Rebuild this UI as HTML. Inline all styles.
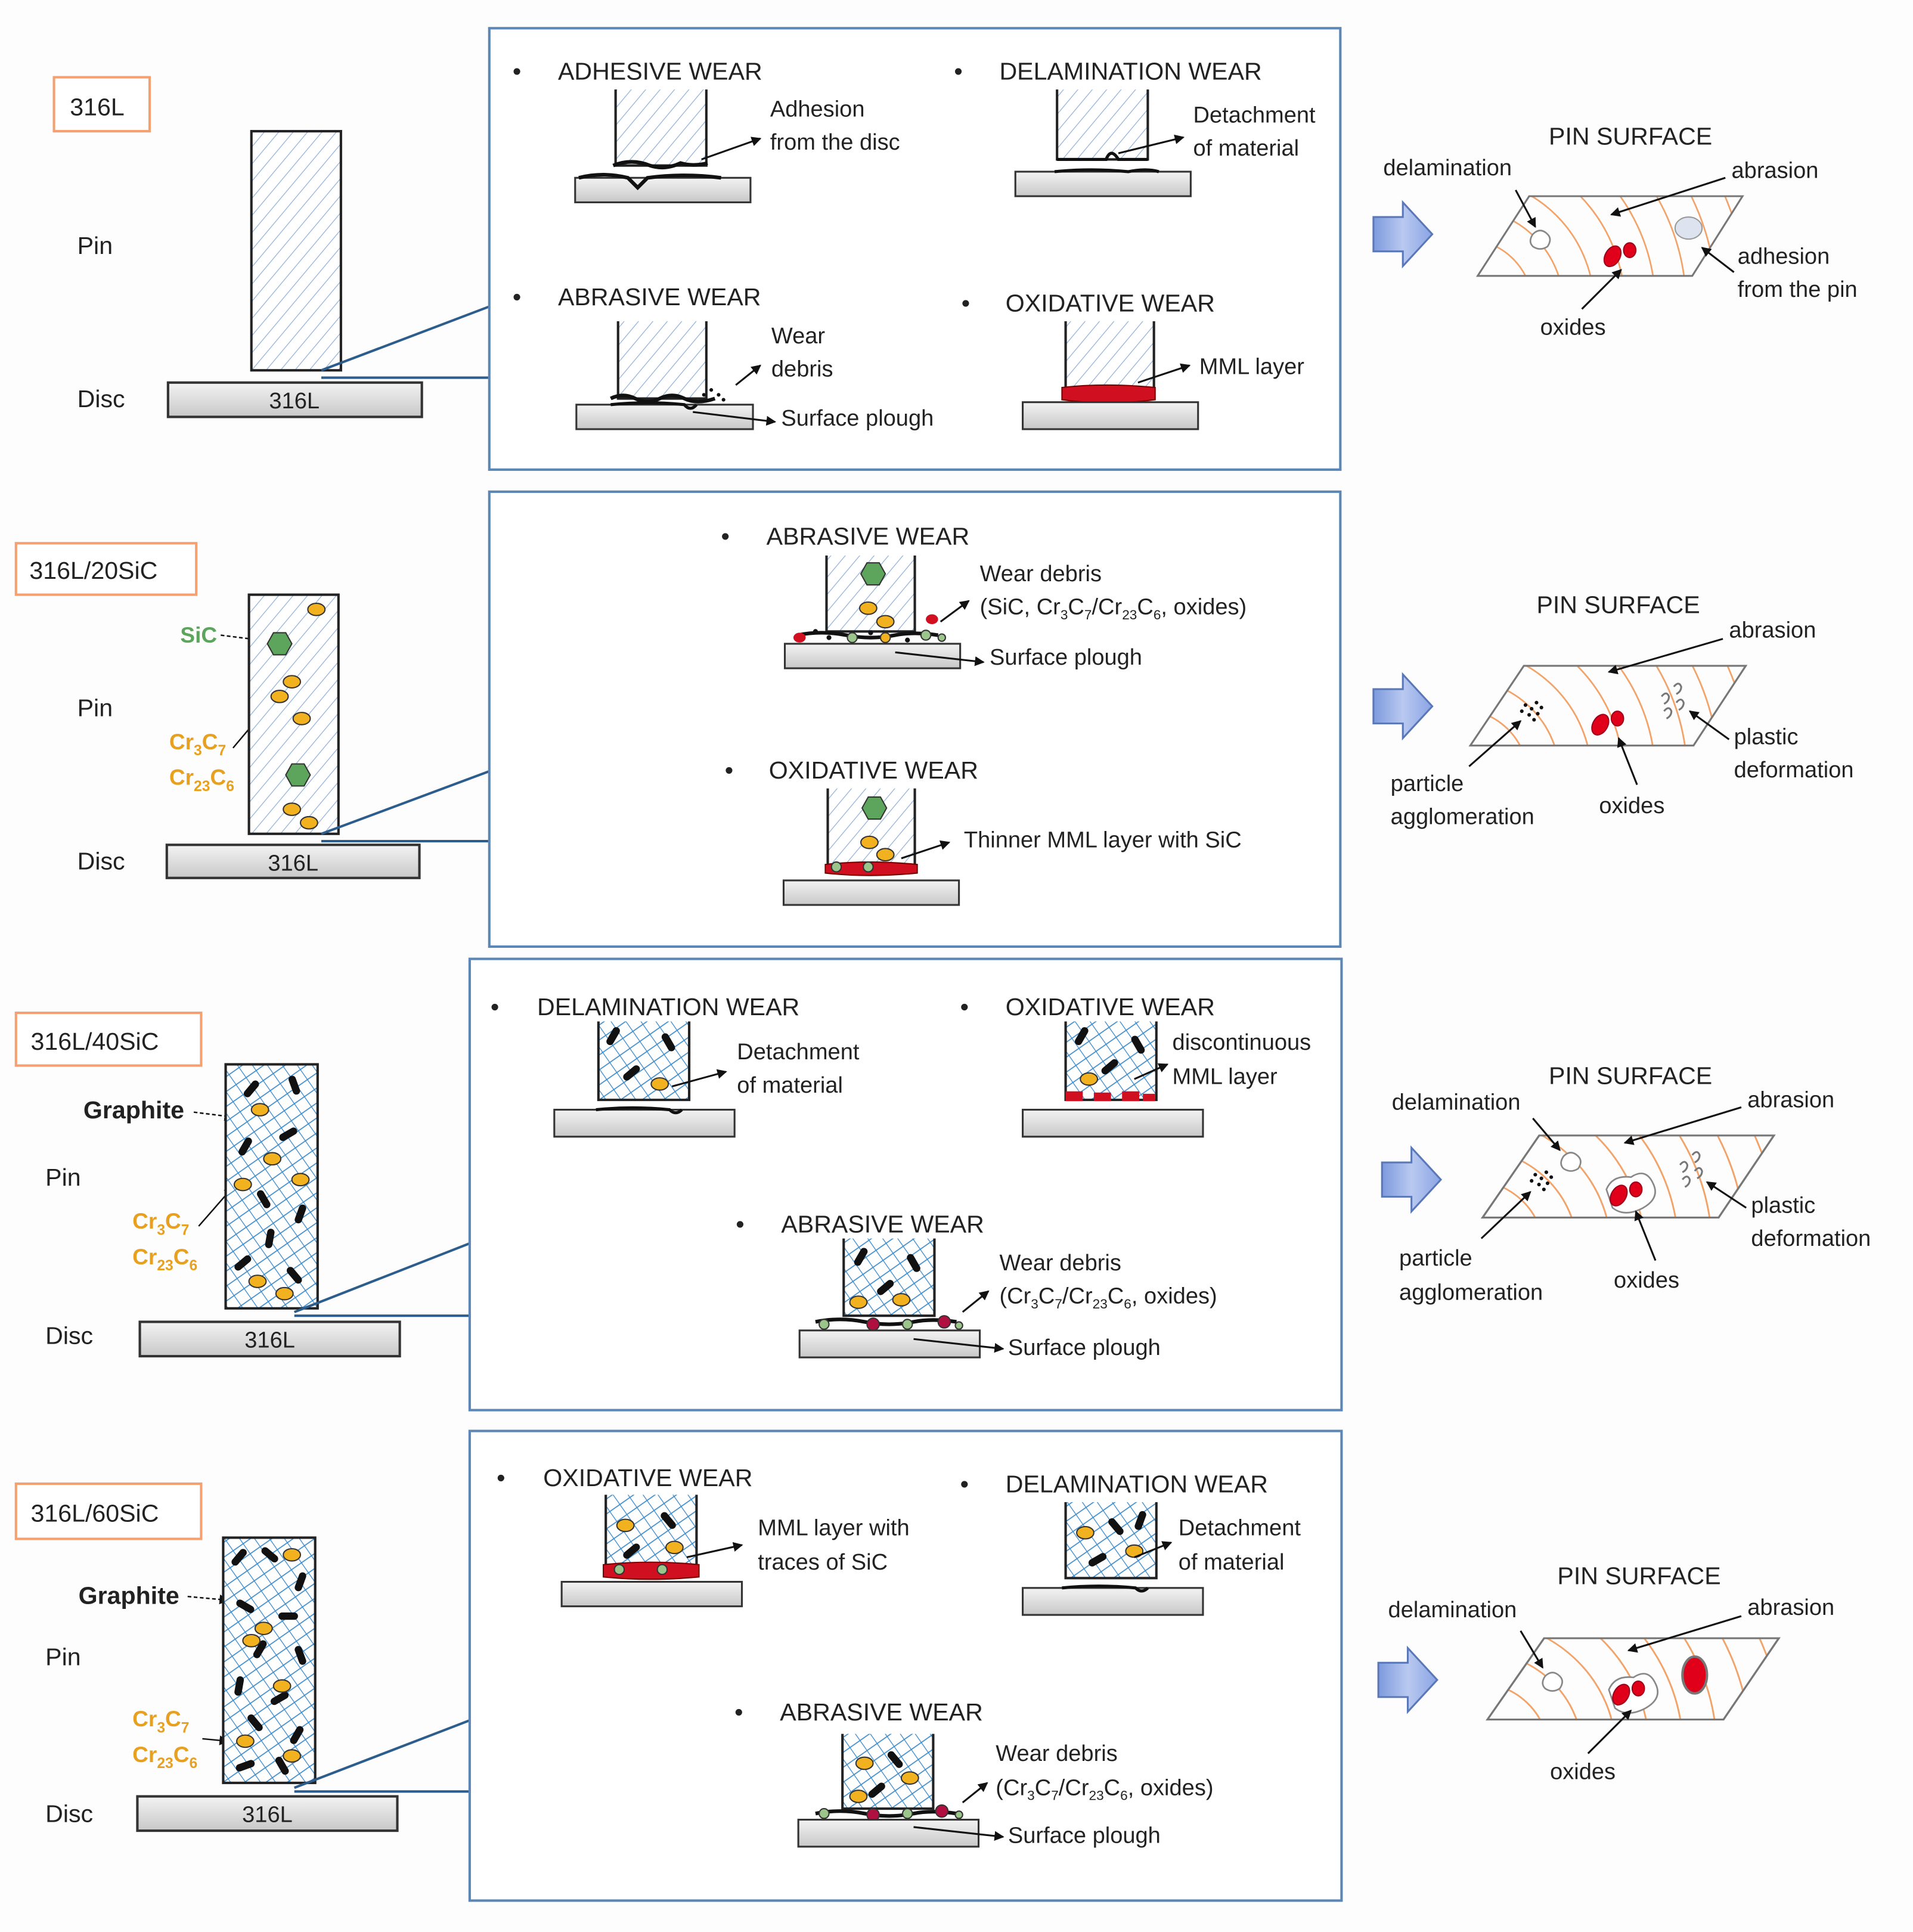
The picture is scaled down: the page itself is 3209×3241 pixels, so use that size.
<!DOCTYPE html>
<html><head><meta charset="utf-8"><style>
html,body{margin:0;padding:0;background:#fff;width:3209px;height:3241px;overflow:hidden;}
svg{display:block;}
text{font-family:"Liberation Sans",sans-serif;fill:#222;}
.h{font-size:20px;}
.l{font-size:18.5px;}
.b{font-size:20px;font-weight:bold;}
.o{fill:#e8a020;font-size:18px;font-weight:bold;}
</style></head><body>
<svg width="3209" height="3241" viewBox="0 0 1560 1575.6" xmlns="http://www.w3.org/2000/svg">
<defs>
<pattern id="hA" width="9" height="9" patternUnits="userSpaceOnUse" patternTransform="rotate(40)">
<rect width="9" height="9" fill="#fff"/><line x1="0" y1="0" x2="0" y2="9" stroke="#8fb0d8" stroke-width="1.2"/></pattern>
<pattern id="hB" width="10" height="10" patternUnits="userSpaceOnUse" patternTransform="rotate(-35)">
<rect width="10" height="10" fill="#fff"/><line x1="0" y1="0" x2="0" y2="10" stroke="#3d8ccc" stroke-width="1.3"/><line x1="0" y1="5" x2="10" y2="5" stroke="#3d8ccc" stroke-width="0.8"/></pattern>
<linearGradient id="dg" x1="0" y1="0" x2="0" y2="1"><stop offset="0" stop-color="#f3f3f3"/><stop offset="1" stop-color="#c8c8c8"/></linearGradient>
<linearGradient id="ag" x1="0" y1="0" x2="1" y2="0"><stop offset="0" stop-color="#7d9ade"/><stop offset="0.5" stop-color="#b9c9f0"/><stop offset="1" stop-color="#8aa4e4"/></linearGradient>
<marker id="ar" markerWidth="8" markerHeight="8" refX="7" refY="4" orient="auto" markerUnits="userSpaceOnUse"><path d="M0,0 L8,4 L0,8 z" fill="#111"/></marker>
<g id="barrow"><polygon points="0,12 24,12 24,0 48,26 24,52 24,40 0,40" fill="url(#ag)" stroke="#5a78b8" stroke-width="1.5"/></g>
<clipPath id="pc"><polygon points="42,0 216,0 175,65 0,65"/></clipPath>
<g id="surf">
<g clip-path="url(#pc)" fill="none" stroke="#f2a36a" stroke-width="1.3">
<circle cx="-10" cy="90" r="55"/><circle cx="-10" cy="90" r="80"/><circle cx="-10" cy="90" r="105"/><circle cx="-10" cy="90" r="130"/><circle cx="-10" cy="90" r="155"/><circle cx="-10" cy="90" r="180"/><circle cx="-10" cy="90" r="205"/><circle cx="-10" cy="90" r="230"/></g>
<polygon points="42,0 216,0 175,65 0,65" fill="none" stroke="#777" stroke-width="1.5"/></g>
<g id="sq"><path d="M0,3 q6,-6 12,0 q4,4 0,10 q-6,4 -12,0 q-4,-4 0,-10z" fill="#fff" stroke="#888" stroke-width="1.3"/></g>
<g id="ox"><ellipse cx="0" cy="0" rx="6" ry="9" transform="rotate(30)" fill="#e0001a" stroke="#a0001a"/><ellipse cx="14" cy="-5" rx="5" ry="6" fill="#e0001a" stroke="#a0001a"/></g>
<g id="pl" fill="none" stroke="#777" stroke-width="1.5"><path d="M0,0 q4,-5 6,0 q0,4 -4,6"/><path d="M10,-8 q4,-5 6,0 q0,4 -4,6"/><path d="M2,12 q4,-5 6,0 q0,4 -4,6"/><path d="M12,5 q4,-5 6,0 q0,4 -4,6"/></g>
<g id="ag2" fill="#111"><circle cx="0" cy="0" r="1.5"/><circle cx="5" cy="3" r="1.5"/><circle cx="9" cy="-2" r="1.5"/><circle cx="3" cy="8" r="1.5"/><circle cx="10" cy="7" r="1.5"/><circle cx="-3" cy="5" r="1.5"/><circle cx="7" cy="12" r="1.5"/><circle cx="13" cy="2" r="1.5"/></g>
<g id="cr"><ellipse rx="7" ry="5" fill="#f2b21f" stroke="#333" stroke-width="1"/></g>
<g id="hx"><polygon points="-10,0 -5,-9 5,-9 10,0 5,9 -5,9" fill="#5da55d" stroke="#333" stroke-width="1"/></g>
<g id="gr"><rect x="-3" y="-8" width="6" height="16" rx="3" fill="#111"/></g>
</defs>
<rect width="1560" height="1575.6" fill="#fdfdfd"/>

<!-- ===== ROW 1 ===== -->
<rect x="44" y="63" width="78" height="44" fill="#fff" stroke="#f4a070" stroke-width="2"/>
<text x="57" y="94" class="h">316L</text>
<text x="63" y="207" class="h">Pin</text>
<text x="63" y="332" class="h">Disc</text>
<rect x="205" y="107" width="73" height="195" fill="url(#hA)" stroke="#222" stroke-width="2"/>
<rect x="137" y="312" width="207" height="28" fill="url(#dg)" stroke="#333" stroke-width="2"/>
<text x="240" y="333" class="l" text-anchor="middle">316L</text>
<polyline points="262,302 399,250" fill="none" stroke="#2d5d8c" stroke-width="2"/>
<polyline points="262,308 399,308" fill="none" stroke="#2d5d8c" stroke-width="2"/>
<rect x="399" y="23" width="694" height="360" fill="#fff" stroke="#5b86b5" stroke-width="2"/>

<text x="418" y="65" class="h">•</text><text x="455" y="65" class="h">ADHESIVE WEAR</text>
<path d="M502,73 V135 H576 V73" fill="url(#hA)" stroke="#222" stroke-width="2"/>
<path d="M500,135 q15,-6 30,0 q12,4 25,-2 q10,3 22,0" fill="none" stroke="#111" stroke-width="3"/>
<rect x="469" y="145" width="143" height="20" fill="url(#dg)" stroke="#333" stroke-width="1.5"/>
<path d="M472,145 q20,-5 40,0 l8,8 l8,-8 q30,-4 60,0" fill="none" stroke="#111" stroke-width="3"/>
<line x1="572" y1="130" x2="620" y2="113" stroke="#111" stroke-width="1.5" marker-end="url(#ar)"/>
<text x="628" y="95" class="l">Adhesion</text><text x="628" y="122" class="l">from the disc</text>

<text x="778" y="65" class="h">•</text><text x="815" y="65" class="h">DELAMINATION WEAR</text>
<path d="M862,73 V130 H936 V73" fill="url(#hA)" stroke="#222" stroke-width="2"/>
<path d="M862,130 h40 q4,-10 10,0 h24" fill="none" stroke="#111" stroke-width="2.5"/>
<rect x="828" y="140" width="143" height="20" fill="url(#dg)" stroke="#333" stroke-width="1.5"/>
<path d="M860,140 q30,-3 60,0 q15,-3 25,0" fill="none" stroke="#111" stroke-width="2.5"/>
<line x1="912" y1="125" x2="965" y2="112" stroke="#111" stroke-width="1.5" marker-end="url(#ar)"/>
<text x="973" y="100" class="l">Detachment</text><text x="973" y="127" class="l">of material</text>

<text x="418" y="249" class="h">•</text><text x="455" y="249" class="h">ABRASIVE WEAR</text>
<path d="M504,262 V325 H576 V262" fill="url(#hA)" stroke="#222" stroke-width="2"/>
<path d="M498,325 q10,-5 20,0 q10,5 20,0 q10,-5 20,0 q10,5 25,0" fill="none" stroke="#111" stroke-width="3"/>
<g fill="#111"><circle cx="580" cy="318" r="1.5"/><circle cx="586" cy="322" r="1.5"/><circle cx="574" cy="322" r="1.5"/><circle cx="590" cy="326" r="1.5"/></g>
<rect x="470" y="330" width="144" height="20" fill="url(#dg)" stroke="#333" stroke-width="1.5"/>
<path d="M498,330 q30,-3 60,0 q5,6 10,0" fill="none" stroke="#111" stroke-width="2.5"/>
<line x1="600" y1="314" x2="620" y2="298" stroke="#111" stroke-width="1.5" marker-end="url(#ar)"/>
<line x1="565" y1="336" x2="632" y2="344" stroke="#111" stroke-width="1.5" marker-end="url(#ar)"/>
<text x="629" y="280" class="l">Wear</text><text x="629" y="307" class="l">debris</text>
<text x="637" y="347" class="l">Surface plough</text>

<text x="784" y="254" class="h">•</text><text x="820" y="254" class="h">OXIDATIVE WEAR</text>
<path d="M869,262 V318 H941 V262" fill="url(#hA)" stroke="#222" stroke-width="2"/>
<path d="M866,316 q35,-4 76,0 v10 q-40,5 -76,0z" fill="#d01020" stroke="#700" stroke-width="1"/>
<rect x="834" y="328" width="143" height="22" fill="url(#dg)" stroke="#333" stroke-width="1.5"/>
<line x1="928" y1="312" x2="970" y2="298" stroke="#111" stroke-width="1.5" marker-end="url(#ar)"/>
<text x="978" y="305" class="l">MML layer</text>

<use href="#barrow" x="1120" y="165"/>
<text x="1263" y="118" class="h">PIN SURFACE</text>
<use href="#surf" x="1205" y="160"/>
<use href="#sq" x="1250" y="188"/>
<use href="#ox" x="1315" y="209"/>
<ellipse cx="1377" cy="186" rx="11" ry="9" fill="#dde4f0" stroke="#999"/>
<text x="1128" y="143" class="l">delamination</text>
<line x1="1236" y1="155" x2="1252" y2="185" stroke="#111" stroke-width="1.5" marker-end="url(#ar)"/>
<text x="1412" y="145" class="l">abrasion</text>
<line x1="1407" y1="145" x2="1314" y2="175" stroke="#111" stroke-width="1.5" marker-end="url(#ar)"/>
<text x="1417" y="215" class="l">adhesion</text><text x="1417" y="242" class="l">from the pin</text>
<line x1="1414" y1="222" x2="1388" y2="202" stroke="#111" stroke-width="1.5" marker-end="url(#ar)"/>
<text x="1256" y="273" class="l">oxides</text>
<line x1="1290" y1="252" x2="1322" y2="220" stroke="#111" stroke-width="1.5" marker-end="url(#ar)"/>

<!-- ===== ROW 2 ===== -->
<rect x="13" y="443" width="147" height="42" fill="#fff" stroke="#f4a070" stroke-width="2"/>
<text x="24" y="472" class="h">316L/20SiC</text>
<text x="147" y="524" class="o" style="fill:#5da55d">SiC</text>
<line x1="180" y1="518" x2="212" y2="522" stroke="#111" stroke-width="1.2" stroke-dasharray="3,2" marker-end="url(#ar)"/>
<text x="63" y="584" class="h">Pin</text>
<text x="63" y="709" class="h">Disc</text>
<text x="138" y="611" class="o">Cr<tspan font-size="12" dy="5">3</tspan><tspan dy="-5">C</tspan><tspan font-size="12" dy="5">7</tspan></text>
<text x="138" y="640" class="o">Cr<tspan font-size="12" dy="5">23</tspan><tspan dy="-5">C</tspan><tspan font-size="12" dy="5">6</tspan></text>
<line x1="190" y1="610" x2="222" y2="572" stroke="#111" stroke-width="1.2" marker-end="url(#ar)"/>
<rect x="203" y="485" width="73" height="195" fill="url(#hA)" stroke="#222" stroke-width="2"/>
<use href="#cr" x="258" y="497"/><use href="#cr" x="238" y="556"/><use href="#cr" x="228" y="568"/><use href="#cr" x="246" y="586"/><use href="#cr" x="238" y="660"/><use href="#cr" x="252" y="671"/>
<use href="#hx" x="228" y="525"/><use href="#hx" x="243" y="632"/>
<rect x="136" y="689" width="206" height="27" fill="url(#dg)" stroke="#333" stroke-width="2"/>
<text x="239" y="710" class="l" text-anchor="middle">316L</text>
<polyline points="262,680 399,629" fill="none" stroke="#2d5d8c" stroke-width="2"/>
<polyline points="262,686 399,686" fill="none" stroke="#2d5d8c" stroke-width="2"/>
<rect x="399" y="401" width="694" height="371" fill="#fff" stroke="#5b86b5" stroke-width="2"/>

<text x="588" y="444" class="h">•</text><text x="625" y="444" class="h">ABRASIVE WEAR</text>
<path d="M674,453 V515 H746 V453" fill="url(#hA)" stroke="#222" stroke-width="2"/>
<use href="#hx" x="712" y="468"/><use href="#cr" x="708" y="496"/><use href="#cr" x="722" y="507"/>
<path d="M650,518 q20,-4 40,0 q20,4 40,0 q15,-3 35,0" fill="none" stroke="#111" stroke-width="3"/>
<ellipse cx="652" cy="520" rx="5" ry="4" fill="#d01020"/><ellipse cx="760" cy="505" rx="5" ry="4" fill="#d01020"/>
<circle cx="695" cy="520" r="4" fill="#9bc58a" stroke="#333"/><circle cx="722" cy="520" r="4" fill="#f2b21f" stroke="#333"/><circle cx="755" cy="518" r="4" fill="#9bc58a" stroke="#333"/><circle cx="768" cy="520" r="3" fill="#9bc58a" stroke="#333"/>
<g fill="#111"><circle cx="665" cy="515" r="2"/><circle cx="676" cy="520" r="2"/><circle cx="710" cy="516" r="2"/><circle cx="740" cy="522" r="2"/></g>
<rect x="640" y="525" width="143" height="20" fill="url(#dg)" stroke="#333" stroke-width="1.5"/>
<line x1="767" y1="507" x2="790" y2="490" stroke="#111" stroke-width="1.5" marker-end="url(#ar)"/>
<line x1="730" y1="532" x2="802" y2="540" stroke="#111" stroke-width="1.5" marker-end="url(#ar)"/>
<text x="799" y="474" class="l">Wear debris</text>
<text x="799" y="501" class="l">(SiC, Cr<tspan font-size="11" dy="4">3</tspan><tspan dy="-4">C</tspan><tspan font-size="11" dy="4">7</tspan><tspan dy="-4">/Cr</tspan><tspan font-size="11" dy="4">23</tspan><tspan dy="-4">C</tspan><tspan font-size="11" dy="4">6</tspan><tspan dy="-4">, oxides)</tspan></text>
<text x="807" y="542" class="l">Surface plough</text>

<text x="591" y="635" class="h">•</text><text x="627" y="635" class="h">OXIDATIVE WEAR</text>
<path d="M675,643 V708 H746 V643" fill="url(#hA)" stroke="#222" stroke-width="2"/>
<use href="#hx" x="713" y="659"/><use href="#cr" x="709" y="687"/><use href="#cr" x="722" y="697"/>
<path d="M673,705 q35,-4 75,0 v7 q-40,4 -75,0z" fill="#d01020" stroke="#700"/>
<circle cx="682" cy="707" r="4" fill="#9bc58a" stroke="#333"/><circle cx="708" cy="707" r="4" fill="#9bc58a" stroke="#333"/>
<rect x="639" y="718" width="143" height="20" fill="url(#dg)" stroke="#333" stroke-width="1.5"/>
<line x1="735" y1="700" x2="774" y2="687" stroke="#111" stroke-width="1.5" marker-end="url(#ar)"/>
<text x="786" y="691" class="l">Thinner MML layer with SiC</text>

<use href="#barrow" x="1120" y="550"/>
<text x="1253" y="500" class="h">PIN SURFACE</text>
<g transform="translate(1199 543) scale(1.04 1)"><use href="#surf"/></g>
<use href="#ag2" x="1244" y="575"/>
<use href="#ox" x="1305" y="591"/>
<use href="#pl" x="1355" y="568"/>
<text x="1410" y="520" class="l">abrasion</text>
<line x1="1405" y1="521" x2="1312" y2="548" stroke="#111" stroke-width="1.5" marker-end="url(#ar)"/>
<text x="1414" y="607" class="l">plastic</text><text x="1414" y="634" class="l">deformation</text>
<line x1="1410" y1="603" x2="1378" y2="580" stroke="#111" stroke-width="1.5" marker-end="url(#ar)"/>
<text x="1134" y="645" class="l">particle</text><text x="1134" y="672" class="l">agglomeration</text>
<line x1="1198" y1="625" x2="1240" y2="588" stroke="#111" stroke-width="1.5" marker-end="url(#ar)"/>
<text x="1304" y="663" class="l">oxides</text>
<line x1="1335" y1="640" x2="1320" y2="602" stroke="#111" stroke-width="1.5" marker-end="url(#ar)"/>

<!-- ===== ROW 3 ===== -->
<rect x="13" y="826" width="151" height="43" fill="#fff" stroke="#f4a070" stroke-width="2"/>
<text x="25" y="856" class="h">316L/40SiC</text>
<text x="68" y="912" class="b">Graphite</text>
<line x1="158" y1="907" x2="190" y2="911" stroke="#111" stroke-width="1.2" stroke-dasharray="3,2" marker-end="url(#ar)"/>
<text x="37" y="967" class="h">Pin</text>
<text x="37" y="1096" class="h">Disc</text>
<text x="108" y="1002" class="o">Cr<tspan font-size="12" dy="5">3</tspan><tspan dy="-5">C</tspan><tspan font-size="12" dy="5">7</tspan></text>
<text x="108" y="1031" class="o">Cr<tspan font-size="12" dy="5">23</tspan><tspan dy="-5">C</tspan><tspan font-size="12" dy="5">6</tspan></text>
<line x1="162" y1="1000" x2="190" y2="968" stroke="#111" stroke-width="1.2" marker-end="url(#ar)"/>
<rect x="184" y="868" width="75" height="199" fill="url(#hB)" stroke="#222" stroke-width="2"/>
<g>
<use href="#gr" transform="translate(205,888) rotate(40)"/><use href="#gr" transform="translate(240,885) rotate(-20)"/><use href="#gr" transform="translate(200,935) rotate(30)"/><use href="#gr" transform="translate(235,925) rotate(60)"/><use href="#gr" transform="translate(215,978) rotate(-30)"/><use href="#gr" transform="translate(245,990) rotate(20)"/><use href="#gr" transform="translate(198,1030) rotate(50)"/><use href="#gr" transform="translate(240,1040) rotate(-40)"/><use href="#gr" transform="translate(220,1010) rotate(10)"/>
<use href="#cr" x="212" y="905"/><use href="#cr" x="222" y="945"/><use href="#cr" x="198" y="966"/><use href="#cr" x="245" y="962"/><use href="#cr" x="210" y="1045"/><use href="#cr" x="232" y="1055"/>
</g>
<rect x="114" y="1078" width="212" height="28" fill="url(#dg)" stroke="#333" stroke-width="2"/>
<text x="220" y="1099" class="l" text-anchor="middle">316L</text>
<polyline points="240,1070 383,1014" fill="none" stroke="#2d5d8c" stroke-width="2"/>
<polyline points="240,1073 383,1073" fill="none" stroke="#2d5d8c" stroke-width="2"/>
<rect x="383" y="782" width="711" height="368" fill="#fff" stroke="#5b86b5" stroke-width="2"/>

<text x="400" y="828" class="h">•</text><text x="438" y="828" class="h">DELAMINATION WEAR</text>
<path d="M488,833 V897 H562 V833" fill="url(#hB)" stroke="#222" stroke-width="2"/>
<use href="#gr" transform="translate(500,845) rotate(30)"/><use href="#gr" transform="translate(545,850) rotate(-30)"/><use href="#gr" transform="translate(515,875) rotate(50)"/><use href="#cr" x="538" y="884"/>
<rect x="452" y="905" width="147" height="22" fill="url(#dg)" stroke="#333" stroke-width="1.5"/>
<path d="M486,905 q30,-3 60,0 q5,5 10,0" fill="none" stroke="#111" stroke-width="2.5"/>
<line x1="548" y1="886" x2="592" y2="874" stroke="#111" stroke-width="1.5" marker-end="url(#ar)"/>
<text x="601" y="864" class="l">Detachment</text><text x="601" y="891" class="l">of material</text>

<text x="783" y="828" class="h">•</text><text x="820" y="828" class="h">OXIDATIVE WEAR</text>
<path d="M869,833 V897 H943 V833" fill="url(#hB)" stroke="#222" stroke-width="2"/>
<use href="#gr" transform="translate(882,845) rotate(30)"/><use href="#gr" transform="translate(928,852) rotate(-30)"/><use href="#gr" transform="translate(905,870) rotate(50)"/><use href="#cr" x="888" y="880"/>
<rect x="869" y="890" width="14" height="8" fill="#d01020"/><rect x="892" y="891" width="14" height="7" fill="#d01020"/><rect x="915" y="890" width="14" height="8" fill="#d01020"/><rect x="932" y="892" width="10" height="6" fill="#d01020"/>
<rect x="834" y="905" width="147" height="22" fill="url(#dg)" stroke="#333" stroke-width="1.5"/>
<line x1="925" y1="880" x2="952" y2="868" stroke="#111" stroke-width="1.5" marker-end="url(#ar)"/>
<text x="956" y="856" class="l">discontinuous</text><text x="956" y="884" class="l">MML layer</text>

<text x="600" y="1005" class="h">•</text><text x="637" y="1005" class="h">ABRASIVE WEAR</text>
<path d="M688,1010 V1073 H762 V1010" fill="url(#hB)" stroke="#222" stroke-width="2"/>
<use href="#gr" transform="translate(702,1025) rotate(30)"/><use href="#gr" transform="translate(745,1030) rotate(-30)"/><use href="#gr" transform="translate(722,1050) rotate(50)"/><use href="#cr" x="735" y="1060"/><use href="#cr" x="700" y="1062"/>
<path d="M665,1078 q20,-4 40,0 q20,4 40,0 q15,-3 35,0" fill="none" stroke="#111" stroke-width="3"/>
<circle cx="672" cy="1080" r="4" fill="#9bc58a" stroke="#333"/><circle cx="712" cy="1080" r="5" fill="#b01040" stroke="#333"/><circle cx="740" cy="1080" r="4" fill="#9bc58a" stroke="#333"/><circle cx="770" cy="1078" r="5" fill="#b01040" stroke="#333"/><circle cx="782" cy="1081" r="3" fill="#9bc58a" stroke="#333"/>
<rect x="652" y="1085" width="147" height="22" fill="url(#dg)" stroke="#333" stroke-width="1.5"/>
<line x1="785" y1="1070" x2="806" y2="1053" stroke="#111" stroke-width="1.5" marker-end="url(#ar)"/>
<line x1="745" y1="1092" x2="818" y2="1100" stroke="#111" stroke-width="1.5" marker-end="url(#ar)"/>
<text x="815" y="1036" class="l">Wear debris</text>
<text x="815" y="1063" class="l">(Cr<tspan font-size="11" dy="4">3</tspan><tspan dy="-4">C</tspan><tspan font-size="11" dy="4">7</tspan><tspan dy="-4">/Cr</tspan><tspan font-size="11" dy="4">23</tspan><tspan dy="-4">C</tspan><tspan font-size="11" dy="4">6</tspan><tspan dy="-4">, oxides)</tspan></text>
<text x="822" y="1105" class="l">Surface plough</text>

<use href="#barrow" x="1127" y="936"/>
<text x="1263" y="884" class="h">PIN SURFACE</text>
<g transform="translate(1209 926) scale(1.1 1.03)"><use href="#surf"/></g>
<use href="#sq" x="1275" y="940"/>
<use href="#ag2" x="1252" y="958"/>
<path d="M1310,970 q5,-12 20,-10 q12,-8 18,5 q6,12 -8,20 q-15,8 -25,0z" fill="#fff" stroke="#888" stroke-width="1.3"/>
<use href="#ox" x="1320" y="975"/>
<use href="#pl" x="1370" y="950"/>
<text x="1135" y="905" class="l">delamination</text>
<line x1="1250" y1="912" x2="1272" y2="938" stroke="#111" stroke-width="1.5" marker-end="url(#ar)"/>
<text x="1425" y="903" class="l">abrasion</text>
<line x1="1420" y1="903" x2="1325" y2="932" stroke="#111" stroke-width="1.5" marker-end="url(#ar)"/>
<text x="1428" y="989" class="l">plastic</text><text x="1428" y="1016" class="l">deformation</text>
<line x1="1424" y1="985" x2="1392" y2="964" stroke="#111" stroke-width="1.5" marker-end="url(#ar)"/>
<text x="1141" y="1032" class="l">particle</text><text x="1141" y="1060" class="l">agglomeration</text>
<line x1="1208" y1="1010" x2="1248" y2="972" stroke="#111" stroke-width="1.5" marker-end="url(#ar)"/>
<text x="1316" y="1050" class="l">oxides</text>
<line x1="1350" y1="1028" x2="1334" y2="988" stroke="#111" stroke-width="1.5" marker-end="url(#ar)"/>

<!-- ===== ROW 4 ===== -->
<rect x="13" y="1210" width="151" height="45" fill="#fff" stroke="#f4a070" stroke-width="2"/>
<text x="25" y="1241" class="h">316L/60SiC</text>
<text x="64" y="1308" class="b">Graphite</text>
<line x1="153" y1="1302" x2="186" y2="1305" stroke="#111" stroke-width="1.2" stroke-dasharray="3,2" marker-end="url(#ar)"/>
<text x="37" y="1358" class="h">Pin</text>
<text x="37" y="1486" class="h">Disc</text>
<text x="108" y="1408" class="o">Cr<tspan font-size="12" dy="5">3</tspan><tspan dy="-5">C</tspan><tspan font-size="12" dy="5">7</tspan></text>
<text x="108" y="1437" class="o">Cr<tspan font-size="12" dy="5">23</tspan><tspan dy="-5">C</tspan><tspan font-size="12" dy="5">6</tspan></text>
<line x1="165" y1="1418" x2="186" y2="1420" stroke="#111" stroke-width="1.2" marker-end="url(#ar)"/>
<rect x="182" y="1254" width="75" height="200" fill="url(#hB)" stroke="#222" stroke-width="2"/>
<g>
<use href="#gr" transform="translate(195,1270) rotate(40)"/><use href="#gr" transform="translate(220,1268) rotate(-50)"/><use href="#gr" transform="translate(245,1290) rotate(20)"/><use href="#gr" transform="translate(200,1310) rotate(-60)"/><use href="#gr" transform="translate(235,1318) rotate(90)"/><use href="#gr" transform="translate(212,1345) rotate(30)"/><use href="#gr" transform="translate(245,1350) rotate(-20)"/><use href="#gr" transform="translate(195,1375) rotate(10)"/><use href="#gr" transform="translate(228,1385) rotate(60)"/><use href="#gr" transform="translate(208,1405) rotate(-40)"/><use href="#gr" transform="translate(242,1415) rotate(30)"/><use href="#gr" transform="translate(200,1440) rotate(70)"/><use href="#gr" transform="translate(230,1440) rotate(-30)"/>
<use href="#cr" x="238" y="1268"/><use href="#cr" x="215" y="1328"/><use href="#cr" x="205" y="1338"/><use href="#cr" x="230" y="1375"/><use href="#cr" x="200" y="1420"/><use href="#cr" x="238" y="1432"/>
</g>
<rect x="112" y="1465" width="212" height="28" fill="url(#dg)" stroke="#333" stroke-width="2"/>
<text x="218" y="1486" class="l" text-anchor="middle">316L</text>
<polyline points="240,1458 383,1403" fill="none" stroke="#2d5d8c" stroke-width="2"/>
<polyline points="240,1461 383,1461" fill="none" stroke="#2d5d8c" stroke-width="2"/>
<rect x="383" y="1167" width="711" height="383" fill="#fff" stroke="#5b86b5" stroke-width="2"/>

<text x="405" y="1212" class="h">•</text><text x="443" y="1212" class="h">OXIDATIVE WEAR</text>
<path d="M494,1219 V1280 H568 V1219" fill="url(#hB)" stroke="#222" stroke-width="2"/>
<use href="#cr" x="510" y="1244"/><use href="#gr" transform="translate(545,1240) rotate(-40)"/><use href="#cr" x="550" y="1262"/><use href="#gr" transform="translate(515,1265) rotate(50)"/>
<path d="M492,1276 q38,-4 78,0 v10 q-40,4 -78,0z" fill="#d01020" stroke="#700"/>
<circle cx="505" cy="1280" r="4" fill="#9bc58a" stroke="#333"/><circle cx="540" cy="1280" r="4" fill="#9bc58a" stroke="#333"/>
<rect x="458" y="1290" width="147" height="20" fill="url(#dg)" stroke="#333" stroke-width="1.5"/>
<line x1="560" y1="1270" x2="605" y2="1260" stroke="#111" stroke-width="1.5" marker-end="url(#ar)"/>
<text x="618" y="1252" class="l">MML layer with</text><text x="618" y="1280" class="l">traces of SiC</text>

<text x="783" y="1217" class="h">•</text><text x="820" y="1217" class="h">DELAMINATION WEAR</text>
<path d="M869,1225 V1287 H943 V1225" fill="url(#hB)" stroke="#222" stroke-width="2"/>
<use href="#cr" x="885" y="1250"/><use href="#gr" transform="translate(910,1245) rotate(-40)"/><use href="#gr" transform="translate(930,1240) rotate(20)"/><use href="#cr" x="925" y="1265"/><use href="#gr" transform="translate(895,1272) rotate(60)"/>
<rect x="834" y="1295" width="147" height="22" fill="url(#dg)" stroke="#333" stroke-width="1.5"/>
<path d="M866,1295 q30,-3 60,0 q5,5 10,0" fill="none" stroke="#111" stroke-width="2.5"/>
<line x1="925" y1="1270" x2="955" y2="1258" stroke="#111" stroke-width="1.5" marker-end="url(#ar)"/>
<text x="961" y="1252" class="l">Detachment</text><text x="961" y="1280" class="l">of material</text>

<text x="599" y="1403" class="h">•</text><text x="636" y="1403" class="h">ABRASIVE WEAR</text>
<path d="M687,1414 V1475 H761 V1414" fill="url(#hB)" stroke="#222" stroke-width="2"/>
<use href="#cr" x="705" y="1438"/><use href="#gr" transform="translate(730,1435) rotate(-40)"/><use href="#cr" x="742" y="1450"/><use href="#gr" transform="translate(715,1460) rotate(50)"/><use href="#cr" x="700" y="1465"/>
<path d="M665,1479 q20,-4 40,0 q20,4 40,0 q15,-3 35,0" fill="none" stroke="#111" stroke-width="3"/>
<circle cx="672" cy="1479" r="4" fill="#9bc58a" stroke="#333"/><circle cx="712" cy="1480" r="5" fill="#b01040" stroke="#333"/><circle cx="740" cy="1479" r="4" fill="#9bc58a" stroke="#333"/><circle cx="768" cy="1477" r="5" fill="#b01040" stroke="#333"/><circle cx="782" cy="1480" r="3" fill="#9bc58a" stroke="#333"/>
<rect x="651" y="1484" width="147" height="22" fill="url(#dg)" stroke="#333" stroke-width="1.5"/>
<line x1="785" y1="1470" x2="805" y2="1454" stroke="#111" stroke-width="1.5" marker-end="url(#ar)"/>
<line x1="745" y1="1490" x2="818" y2="1498" stroke="#111" stroke-width="1.5" marker-end="url(#ar)"/>
<text x="812" y="1436" class="l">Wear debris</text>
<text x="812" y="1464" class="l">(Cr<tspan font-size="11" dy="4">3</tspan><tspan dy="-4">C</tspan><tspan font-size="11" dy="4">7</tspan><tspan dy="-4">/Cr</tspan><tspan font-size="11" dy="4">23</tspan><tspan dy="-4">C</tspan><tspan font-size="11" dy="4">6</tspan><tspan dy="-4">, oxides)</tspan></text>
<text x="822" y="1503" class="l">Surface plough</text>

<use href="#barrow" x="1124" y="1344"/>
<text x="1270" y="1292" class="h">PIN SURFACE</text>
<g transform="translate(1213 1336) scale(1.1 1.02)"><use href="#surf"/></g>
<use href="#sq" x="1260" y="1364"/>
<path d="M1312,1378 q5,-12 20,-10 q12,-8 18,5 q6,12 -8,20 q-15,8 -25,0z" fill="#fff" stroke="#888" stroke-width="1.3"/>
<use href="#ox" x="1322" y="1382"/>
<ellipse cx="1382" cy="1366" rx="10" ry="15" fill="#e0001a" stroke="#777" stroke-width="2"/>
<text x="1132" y="1319" class="l">delamination</text>
<line x1="1240" y1="1330" x2="1258" y2="1360" stroke="#111" stroke-width="1.5" marker-end="url(#ar)"/>
<text x="1425" y="1317" class="l">abrasion</text>
<line x1="1420" y1="1318" x2="1328" y2="1346" stroke="#111" stroke-width="1.5" marker-end="url(#ar)"/>
<text x="1264" y="1451" class="l">oxides</text>
<line x1="1295" y1="1430" x2="1330" y2="1395" stroke="#111" stroke-width="1.5" marker-end="url(#ar)"/>
</svg>
</body></html>
